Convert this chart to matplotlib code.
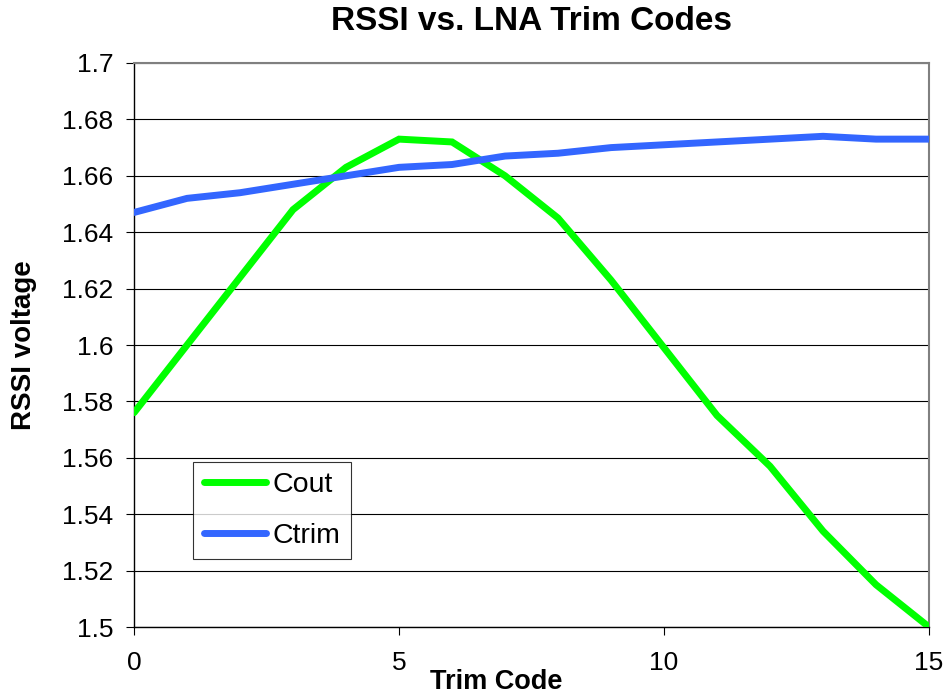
import matplotlib
matplotlib.use("Agg")
import matplotlib.pyplot as plt

plt.rcParams["font.family"] = ["Liberation Sans", "DejaVu Sans"]

# data
trim_code = list(range(16))
cout = [1.576, 1.600, 1.624, 1.648, 1.663, 1.673, 1.672, 1.660,
        1.645, 1.623, 1.599, 1.575, 1.557, 1.534, 1.515, 1.500]
ctrim = [1.647, 1.652, 1.654, 1.657, 1.660, 1.663, 1.664, 1.667,
         1.668, 1.670, 1.671, 1.672, 1.673, 1.674, 1.673, 1.673]
y_ticks = [1.5, 1.52, 1.54, 1.56, 1.58, 1.6, 1.62, 1.64, 1.66, 1.68, 1.7]
y_labels = ["1.5", "1.52", "1.54", "1.56", "1.58", "1.6", "1.62", "1.64", "1.66", "1.68", "1.7"]
x_ticks = [0, 5, 10, 15]

fig = plt.figure(figsize=(9.48, 6.96), dpi=100)
ax = fig.add_axes([0.1414, 0.0991, 0.8386, 0.8104])

ax.plot(trim_code, cout, color="#00ff00", lw=5, solid_capstyle="round",
        solid_joinstyle="miter", label="Cout", zorder=3)
ax.plot(trim_code, ctrim, color="#3366ff", lw=5, solid_capstyle="round",
        solid_joinstyle="miter", label="Ctrim", zorder=3)

ax.set_xlim(0, 15)
ax.set_ylim(1.5, 1.7)
ax.set_xticks(x_ticks)
ax.set_xticklabels([str(t) for t in x_ticks])
ax.set_yticks(y_ticks)
ax.set_yticklabels(y_labels)
ax.yaxis.grid(True, color="black", lw=0.8)
ax.set_axisbelow(True)

ax.tick_params(axis="both", direction="out", length=6, width=0.8,
               labelsize=19, color="black")
ax.tick_params(axis="y", pad=9)
ax.tick_params(axis="x", pad=11)

for s in ["left", "bottom"]:
    ax.spines[s].set_color("black")
    ax.spines[s].set_linewidth(1.0)
for s in ["top", "right"]:
    ax.spines[s].set_color("#808080")
    ax.spines[s].set_linewidth(1.5)

ax.set_title("RSSI vs. LNA Trim Codes", fontsize=24, fontweight="bold", pad=24)
ax.set_xlabel("Trim Code", fontsize=19.5, fontweight="bold")
ax.xaxis.set_label_coords(0.455, -0.074)
ax.set_ylabel("RSSI voltage", fontsize=20, fontweight="bold")
ax.yaxis.set_label_coords(-0.122, 0.5)

leg = ax.legend(loc="lower left", bbox_to_anchor=(0.074, 0.12), fontsize=20.5,
                frameon=True, fancybox=False, edgecolor="black",
                handlelength=2.2, handletextpad=0.2, borderpad=0.38,
                labelspacing=0.85, borderaxespad=0)
leg.get_frame().set_linewidth(0.8)

fig.savefig("out.png", dpi=100)
